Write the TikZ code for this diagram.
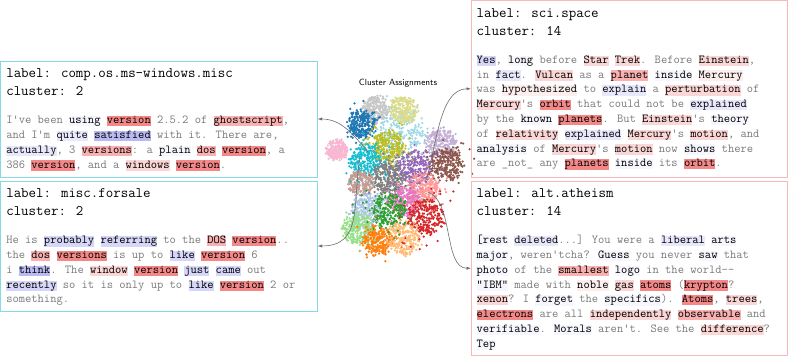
\documentclass[tikz,border=0pt]{standalone}
\usepackage{xcolor}
\usepackage{tikz}
\usetikzlibrary{arrows.meta,positioning}
\definecolor{cyanframe}{HTML}{86DAE6}
\definecolor{redframe}{HTML}{F6B8B8}
\definecolor{plaintext}{HTML}{7A7A7A}
\definecolor{arrowgrey}{HTML}{6E6E6E}
\definecolor{hlR0}{HTML}{FDEEEE}
\definecolor{hlR1}{HTML}{FBD6D6}
\definecolor{hlR2}{HTML}{F8B0B0}
\definecolor{hlR3}{HTML}{F48888}
\definecolor{hlB0}{HTML}{F6F6FE}
\definecolor{hlB1}{HTML}{E8E8FC}
\definecolor{hlB2}{HTML}{D6D6F9}
\definecolor{hlB3}{HTML}{BABAF3}
\definecolor{tabblue}{HTML}{1F77B4}
\definecolor{tablightblue}{HTML}{AEC7E8}
\definecolor{taborange}{HTML}{FF7F0E}
\definecolor{tablightorange}{HTML}{FFBB78}
\definecolor{tabgreen}{HTML}{2CA02C}
\definecolor{tablightgreen}{HTML}{98DF8A}
\definecolor{tabred}{HTML}{D62728}
\definecolor{tabsalmon}{HTML}{FF9896}
\definecolor{tabpurple}{HTML}{9467BD}
\definecolor{tablavender}{HTML}{C5B0D5}
\definecolor{tabbrown}{HTML}{8C564B}
\definecolor{tabtan}{HTML}{C49C94}
\definecolor{tabpink}{HTML}{E377C2}
\definecolor{tablightpink}{HTML}{F7B6D2}
\definecolor{tabgrey}{HTML}{7F7F7F}
\definecolor{tablightgrey}{HTML}{C7C7C7}
\definecolor{tabolive}{HTML}{BCBD22}
\definecolor{tabkhaki}{HTML}{DBDB8D}
\definecolor{tabcyan}{HTML}{17BECF}
\definecolor{tablightcyan}{HTML}{9EDAE5}
\newcommand{\bodyfont}{\ttfamily\fontsize{12.2}{14.8}\selectfont}
\newcommand{\headfont}{\ttfamily\fontsize{14.5}{18}\selectfont}
\newcommand{\head}[1]{{\headfont\color{black}#1}}
\newcommand{\hlword}[2]{{\setlength{\fboxsep}{0pt}\colorbox{#1}{\color{black}\rule[-2.6pt]{0pt}{10.2pt}#2}}}
\tikzset{
  docframe/.style={draw, line width=0.8pt, inner sep=0pt, outer sep=0pt, anchor=north west},
  twoframe/.style={docframe, draw=cyanframe},
  fourteenframe/.style={docframe, draw=redframe},
  doctext/.style={anchor=north west, inner sep=0pt, align=left, text=plaintext, font=\bodyfont},
  plottitle/.style={font=\sffamily\fontsize{9}{11}\selectfont},
  pointer/.style={draw=arrowgrey, line width=0.6pt, -{Latex[length=4.5pt,width=3.2pt]}}
}
\newcommand{\clusterpoints}[5]{%
  \foreach \k in {1,...,#5}{
    \pgfmathsetmacro{\ang}{360*rnd}
    \pgfmathsetmacro{\rr}{#4*sqrt(rnd)*(0.8+0.35*rnd)}
    \fill[#1] (#2,#3) ++(\ang:\rr) circle[radius=1.25pt];
  }
}

\begin{document}
\begin{tikzpicture}[x=1pt,y=1pt]
\useasboundingbox (0,0) rectangle (789,358);
\pgfmathsetseed{11}

\node[plottitle] (title) at (398,275) {Cluster Assignments};

\foreach \col/\cx/\cy/\cr in {tablightcyan/400/224/24, tablightgrey/375/248/14, tabkhaki/403/248/14,
  tabblue/362/234/14, tabolive/388/212/16, tabcyan/366/197/17, tablightpink/337/208/11,
  tablavender/441/215/16, tabbrown/446/194/17, tabpurple/414/190/17, tabgrey/389/180/16,
  tabtan/361/175/13, tabsalmon/424/170/16, tabpink/406/157/15, tablightblue/367/148/16,
  tabgreen/388/147/18, tabred/425/141/18, tablightgreen/358/129/15, taborange/377/117/15,
  tablightorange/404/120/17}
  {\clusterpoints{\col}{\cx}{\cy}{\cr}{240}}
\foreach \col/\cx/\cy/\cr in {tablightcyan/398/224/36, tabblue/362/235/22, tabolive/388/213/28,
  tabcyan/366/198/28, tabbrown/446/195/28, tabpurple/414/191/26, tabgrey/389/181/26,
  tabsalmon/423/170/26, tabpink/406/158/24, tablightblue/367/148/26, tabgreen/388/148/36,
  tabred/424/142/34, taborange/377/118/24, tablightgreen/358/130/22}
  {\clusterpoints{\col}{\cx}{\cy}{\cr}{28}}

\coordinate (winsrc) at (368,206);
\coordinate (salesrc) at (360,200);
\coordinate (spacesrc) at (425,175);
\coordinate (atheismsrc) at (428,166);

\node[twoframe, minimum width=317pt, minimum height=116pt] (winframe) at (0.6,297) {};
\node[doctext] (wintext) at ([xshift=5.5pt,yshift=-7.6pt]winframe.north west) {%
\head{label: comp.os.ms-windows.misc}\\[3.2pt]
\head{cluster: 2}\\[13.2pt]
I've been \hlword{hlB0}{using} \hlword{hlR3}{version} 2.5.2 of \hlword{hlR2}{ghostscript},\\
and I'm \hlword{hlB1}{quite} \hlword{hlB3}{satisfied} with it. There are,\\
\hlword{hlB1}{actually}, 3 \hlword{hlR2}{versions}: a \hlword{hlB0}{plain} \hlword{hlR2}{dos} \hlword{hlR3}{version}, a\\
386 \hlword{hlR3}{version}, and a \hlword{hlR1}{windows} \hlword{hlR3}{version}.};

\node[twoframe, minimum width=317pt, minimum height=130pt] (saleframe) at (0.6,177) {};
\node[doctext] (saletext) at ([xshift=5.5pt,yshift=-7.6pt]saleframe.north west) {%
\head{label: misc.forsale}\\[3.2pt]
\head{cluster: 2}\\[13.2pt]
He is \hlword{hlB2}{probably} \hlword{hlB2}{referring} to the \hlword{hlR2}{DOS} \hlword{hlR3}{version}..\\
the \hlword{hlR2}{dos} \hlword{hlR3}{versions} is up to \hlword{hlB2}{like} \hlword{hlR3}{version} 6\\
i \hlword{hlB3}{think}. The \hlword{hlR1}{window} \hlword{hlR3}{version} \hlword{hlB2}{just} \hlword{hlB2}{came} out\\
\hlword{hlB2}{recently} so it is only up to \hlword{hlB2}{like} \hlword{hlR3}{version} 2 or\\
something.};

\node[fourteenframe, minimum width=316.4pt, minimum height=176.4pt] (spaceframe) at (471,357.4) {};
\node[doctext] (spacetext) at ([xshift=5.5pt,yshift=-7.6pt]spaceframe.north west) {%
\head{label: sci.space}\\[3.2pt]
\head{cluster: 14}\\[13.2pt]
\hlword{hlB2}{Yes}, \hlword{hlB0}{long} before \hlword{hlR1}{Star} \hlword{hlR1}{Trek}. Before \hlword{hlR1}{Einstein},\\
in \hlword{hlB1}{fact}. \hlword{hlR1}{Vulcan} as a \hlword{hlR2}{planet} \hlword{hlB0}{inside} \hlword{hlR0}{Mercury}\\
was \hlword{hlR0}{hypothesized} to \hlword{hlB1}{explain} a \hlword{hlR1}{perturbation} of\\
\hlword{hlR1}{Mercury}'s \hlword{hlR3}{orbit} that could not be \hlword{hlB1}{explained}\\
by the \hlword{hlB0}{known} \hlword{hlR3}{planets}. But \hlword{hlR1}{Einstein}'s \hlword{hlB0}{theory}\\
of \hlword{hlR1}{relativity} \hlword{hlB1}{explained} \hlword{hlR1}{Mercury}'s \hlword{hlR1}{motion}, and\\
\hlword{hlB0}{analysis} of \hlword{hlR1}{Mercury}'s \hlword{hlR1}{motion} now \hlword{hlB0}{shows} there\\
are \_not\_ any \hlword{hlR3}{planets} \hlword{hlB0}{inside} its \hlword{hlR3}{orbit}.};

\node[fourteenframe, minimum width=316.4pt, minimum height=174.5pt] (atheismframe) at (471,177) {};
\node[doctext] (atheismtext) at ([xshift=5.5pt,yshift=-7.6pt]atheismframe.north west) {%
\head{label: alt.atheism}\\[3.2pt]
\head{cluster: 14}\\[13.2pt]
\hlword{hlB0}{[rest} \hlword{hlB1}{deleted}...] You were a \hlword{hlB1}{liberal} \hlword{hlB0}{arts}\\
\hlword{hlB0}{major}, weren'tcha? \hlword{hlB0}{Guess} you never \hlword{hlB0}{saw} that\\
\hlword{hlB0}{photo} of the \hlword{hlR2}{smallest} \hlword{hlB0}{logo} in the world-{}-\\
\hlword{hlB0}{"IBM"} made with \hlword{hlR0}{noble} \hlword{hlR1}{gas} \hlword{hlR3}{atoms} (\hlword{hlR3}{krypton}?\\
\hlword{hlR1}{xenon}? I \hlword{hlB0}{forget} the \hlword{hlB0}{specifics}). \hlword{hlR3}{Atoms}, \hlword{hlR1}{trees},\\
\hlword{hlR3}{electrons} are all \hlword{hlR1}{independently} \hlword{hlR2}{observable} and\\
\hlword{hlB0}{verifiable}. \hlword{hlB0}{Morals} aren't. See the \hlword{hlR1}{difference}?\\
\hlword{hlB0}{Tep}};

\draw[pointer] (winsrc) to[out=130,in=0] (winframe.east);
\draw[pointer] (salesrc) to[out=-100,in=0,looseness=1.2] (saleframe.east);
\draw[pointer] (spacesrc) to[out=70,in=180,looseness=0.8] (spaceframe.west);
\draw[pointer] (atheismsrc) to[out=-20,in=180,looseness=0.8] (atheismframe.west);
\end{tikzpicture}
\end{document}
